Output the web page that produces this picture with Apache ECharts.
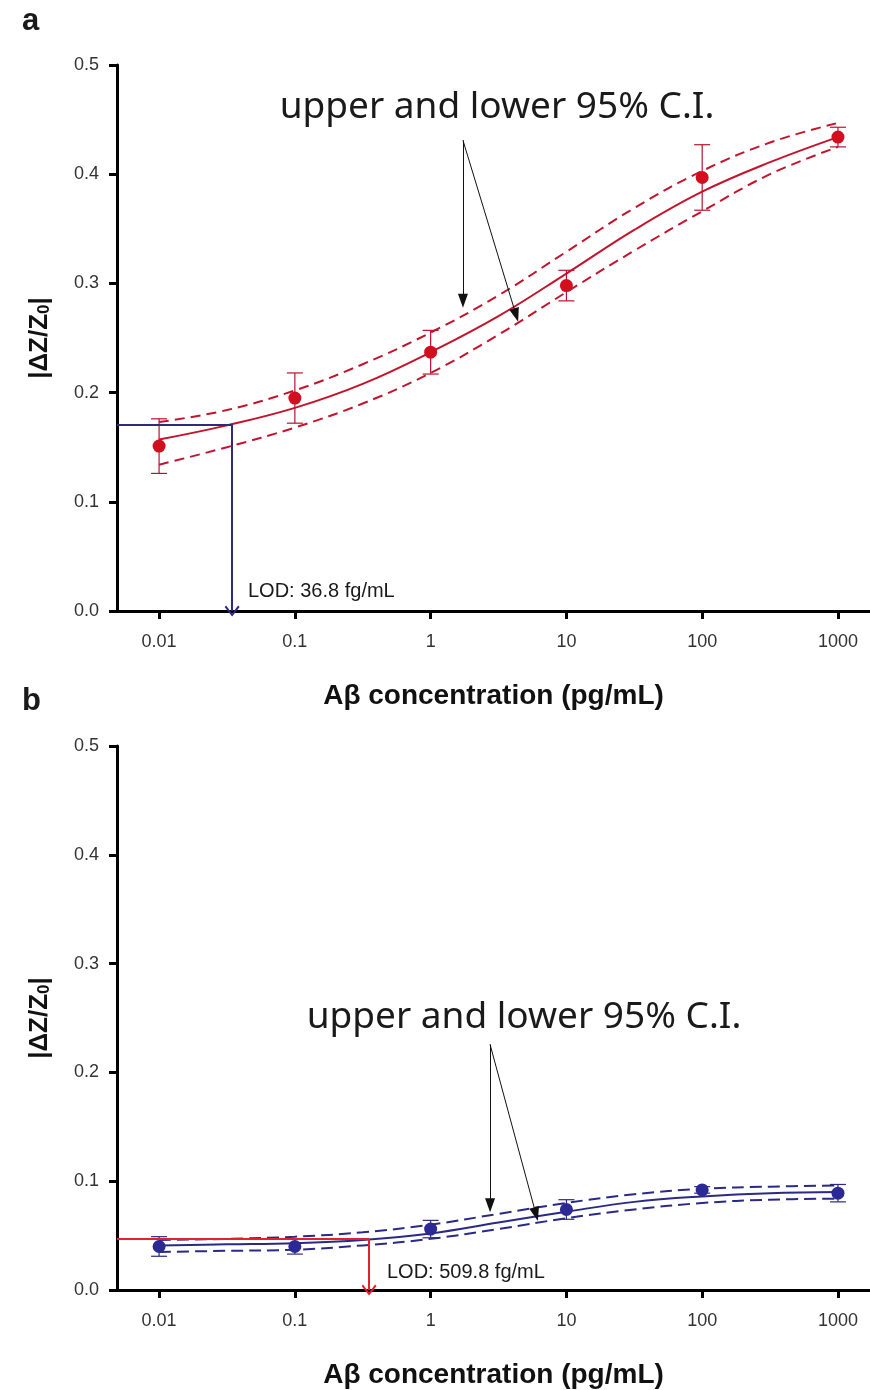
<!DOCTYPE html>
<html>
<head>
<meta charset="utf-8">
<script src="https://cdn.jsdelivr.net/npm/echarts@6/dist/echarts.min.js"></script>
<style>html,body{margin:0;padding:0;background:#fff;}#c{width:870px;height:1390px;}</style>
</head>
<body>
<div id="c"></div>
<script>
// ---------- data ----------
const concentrations = [0.01, 0.1, 1, 10, 100, 1000];
const xTickLabels = ['0.01', '0.1', '1', '10', '100', '1000'];
const curveConc = [0.01, 0.0316, 0.1, 0.316, 1, 3.16, 10, 31.6, 100, 316, 1000];

// panel a (red)
const aMeans = [0.151, 0.195, 0.237, 0.298, 0.397, 0.434];
const aErrors = [0.025, 0.023, 0.020, 0.014, 0.030, 0.009];
const aFit   = [0.157, 0.170, 0.186, 0.208, 0.237, 0.270, 0.309, 0.349, 0.384, 0.411, 0.434];
const aUpper = [0.173, 0.184, 0.202, 0.226, 0.255, 0.289, 0.329, 0.369, 0.403, 0.429, 0.447];
const aLower = [0.134, 0.150, 0.168, 0.190, 0.218, 0.253, 0.292, 0.330, 0.366, 0.400, 0.425];
const aLOD = { conc: 0.0345, signal: 0.171, label: 'LOD: 36.8 fg/mL' };
const aArrowStart = [1.73, 0.431];
const aArrowEnds = [[1.73, 0.284], [4.26, 0.271]];

// panel b (blue)
const bMeans = [0.040, 0.040, 0.056, 0.074, 0.092, 0.089];
const bErrors = [0.009, 0.007, 0.008, 0.009, 0.003, 0.008];
const bFit   = [0.041, 0.042, 0.043, 0.046, 0.052, 0.062, 0.072, 0.081, 0.086, 0.089, 0.090];
const bUpper = [0.046, 0.047, 0.049, 0.053, 0.060, 0.070, 0.080, 0.088, 0.093, 0.095, 0.096];
const bLower = [0.035, 0.036, 0.037, 0.041, 0.047, 0.056, 0.066, 0.074, 0.080, 0.083, 0.084];
const bLOD = { conc: 0.352, signal: 0.047, label: 'LOD: 509.8 fg/mL' };
const bArrowStart = [2.74, 0.2257];
const bArrowEnds = [[2.74, 0.078], [5.97, 0.0697]];

const annotationText = 'upper and lower 95% C.I.';
const xTitle = 'A\u03b2 concentration (pg/mL)';

// ---------- helpers ----------
const L = Math.log10;
const X_MIN = -2.31, X_MAX = 3.236;
const pairs = (xs, ys) => xs.map((x, i) => [L(x), ys[i]]);
const tickLogs = concentrations.map(L);

function xAxisCfg(gi) {
  return {
    gridIndex: gi, type: 'value', min: X_MIN, max: X_MAX,
    name: xTitle, nameLocation: 'middle', nameGap: 71,
    nameTextStyle: { fontFamily: 'Liberation Sans', fontWeight: 'bold', fontSize: 28, color: '#111' },
    axisLine: { show: true, onZero: false, lineStyle: { color: '#000', width: 3 } },
    axisTick: { show: true, customValues: tickLogs, length: 8, lineStyle: { color: '#000', width: 3 } },
    axisLabel: { customValues: tickLogs, margin: 22, fontFamily: 'Liberation Sans', fontSize: 18, color: '#333',
      formatter: v => xTickLabels[tickLogs.findIndex(t => Math.abs(t - v) < 1e-6)] },
    splitLine: { show: false }
  };
}
function yAxisCfg(gi) {
  return {
    gridIndex: gi, type: 'value', min: 0, max: 0.5, interval: 0.1,
    name: '{t||\u0394Z/Z}{s|0}{t||}', nameLocation: 'middle', nameGap: 64, nameRotate: 90,
    nameTextStyle: { rich: {
      t: { fontFamily: 'Liberation Sans', fontWeight: 'bold', fontSize: 26, color: '#111' },
      s: { fontFamily: 'Liberation Sans', fontWeight: 'bold', fontSize: 17, color: '#111', verticalAlign: 'bottom', padding: [10, 0, 0, 0] }
    } },
    axisLine: { show: true, onZero: false, lineStyle: { color: '#000', width: 3 } },
    axisTick: { show: true, length: 8, lineStyle: { color: '#000', width: 3 } },
    axisLabel: { margin: 18, fontFamily: 'Liberation Sans', fontSize: 18, color: '#333', formatter: v => v.toFixed(1) },
    splitLine: { show: false }
  };
}
function errorBars(gi, means, errs, color) {
  return {
    type: 'custom', xAxisIndex: gi, yAxisIndex: gi, z: 3, silent: true,
    data: concentrations.map((c, i) => [L(c), means[i], errs[i]]),
    renderItem: (params, api) => {
      const x = api.value(0), y = api.value(1), e = api.value(2);
      const t = api.coord([x, y + e]), b = api.coord([x, y - e]);
      const hw = 8, st = { stroke: color, lineWidth: 1.2 };
      return { type: 'group', children: [
        { type: 'line', shape: { x1: t[0], y1: t[1], x2: b[0], y2: b[1] }, style: st },
        { type: 'line', shape: { x1: t[0] - hw, y1: t[1], x2: t[0] + hw, y2: t[1] }, style: st },
        { type: 'line', shape: { x1: b[0] - hw, y1: b[1], x2: b[0] + hw, y2: b[1] }, style: st }
      ] };
    }
  };
}
const V_ARROW = 'path://M7,0 L14,8 L12.6,9.2 L7,2.6 L1.4,9.2 L0,8 Z';
function panelSeries(gi, d) {
  const lineBase = { type: 'line', xAxisIndex: gi, yAxisIndex: gi, showSymbol: false, symbol: 'none',
    smooth: 0.4, silent: true, z: 2 };
  return [
    Object.assign({}, lineBase, { data: pairs(curveConc, d.fit), lineStyle: { color: d.lineColor, width: 2 } }),
    Object.assign({}, lineBase, { data: pairs(curveConc, d.upper), lineStyle: { color: d.lineColor, width: 2, type: d.dash } }),
    Object.assign({}, lineBase, { data: pairs(curveConc, d.lower), lineStyle: { color: d.lineColor, width: 2, type: d.dash } }),
    errorBars(gi, d.means, d.errors, d.barColor),
    {
      type: 'scatter', xAxisIndex: gi, yAxisIndex: gi, z: 4, silent: true,
      symbol: 'circle', symbolSize: 13, itemStyle: { color: d.pointColor, opacity: 1 },
      data: pairs(concentrations, d.means),
      markLine: {
        silent: true, animation: false, label: { show: false }, emphasis: { disabled: true },
        data: [
          [ { coord: [X_MIN, d.lod.signal], symbol: 'none', lineStyle: { color: d.lodColor, width: 2, type: 'solid' } },
            { coord: [L(d.lod.conc), d.lod.signal], symbol: 'none' } ],
          [ { coord: [L(d.lod.conc), d.lod.signal], symbol: 'none', lineStyle: { color: d.lodColor, width: 2, type: 'solid' } },
            { coord: [L(d.lod.conc), 0], symbol: V_ARROW, symbolSize: [15, 11] } ],
          [ { coord: [L(d.arrowStart[0]), d.arrowStart[1]], symbol: 'none', lineStyle: { color: '#111', width: 1, type: 'solid' } },
            { coord: [L(d.arrowEnds[0][0]), d.arrowEnds[0][1]], symbol: 'triangle', symbolSize: [10, 14] } ],
          [ { coord: [L(d.arrowStart[0]), d.arrowStart[1]], symbol: 'none', lineStyle: { color: '#111', width: 1, type: 'solid' } },
            { coord: [L(d.arrowEnds[1][0]), d.arrowEnds[1][1]], symbol: 'triangle', symbolSize: [10, 14] } ]
        ]
      }
    }
  ];
}

const chart = echarts.init(document.getElementById('c'), null, { renderer: 'canvas' });
const textStyle = (txt, x, y, font, align) => ({
  type: 'text', x: x, y: y, silent: true,
  style: { text: txt, font: font, fill: '#1a1a1a', textAlign: align || 'left', align: align || 'left', textVerticalAlign: 'middle', verticalAlign: 'middle' }
});
chart.setOption({
  animation: false,
  backgroundColor: '#fff',
  grid: [
    { left: 117, top: 65, width: 753, height: 546 },
    { left: 117, top: 746, width: 753, height: 545 }
  ],
  xAxis: [xAxisCfg(0), xAxisCfg(1)],
  yAxis: [yAxisCfg(0), yAxisCfg(1)],
  series: [].concat(
    panelSeries(0, { fit: aFit, upper: aUpper, lower: aLower, means: aMeans, errors: aErrors,
      lineColor: '#C3142D', barColor: '#B8142C', pointColor: '#D20F1E', dash: [10, 6], lodColor: '#2E2B7C',
      lod: aLOD, arrowStart: aArrowStart, arrowEnds: aArrowEnds }),
    panelSeries(1, { fit: bFit, upper: bUpper, lower: bLower, means: bMeans, errors: bErrors,
      lineColor: '#2A2A86', barColor: '#2A2A86', pointColor: '#2C2894', dash: [12, 6], lodColor: '#E3202B',
      lod: bLOD, arrowStart: bArrowStart, arrowEnds: bArrowEnds })
  ),
  graphic: [
    textStyle('a', 22, 21, 'bold 31px "Liberation Sans"'),
    textStyle('b', 22, 701, 'bold 31px "Liberation Sans"'),
    textStyle(annotationText, 497, 107, '37px "Noto Sans"', 'center'),
    textStyle(annotationText, 524, 1017, '37px "Noto Sans"', 'center'),
    textStyle(aLOD.label, 248, 591, '20px "Liberation Sans"'),
    textStyle(bLOD.label, 387, 1272, '20px "Liberation Sans"')
  ]
});
</script>
</body>
</html>
